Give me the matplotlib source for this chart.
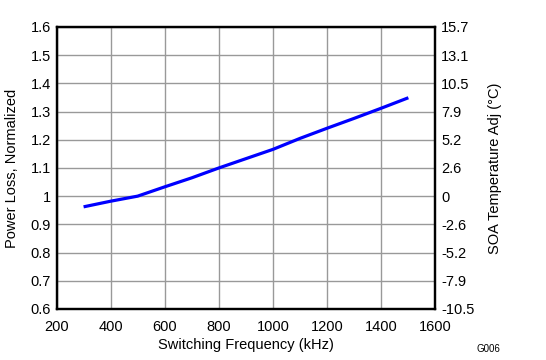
import numpy as np
import matplotlib.pyplot as plt

plt.rcParams['font.family'] = ['Liberation Sans', 'DejaVu Sans']

# data
freq = [300, 400, 500, 600, 700, 800, 900, 1000, 1100, 1200, 1300, 1400, 1500]
loss = [0.962, 0.982, 1.0, 1.033, 1.065, 1.10, 1.133, 1.166, 1.205, 1.241, 1.276, 1.312, 1.349]

x_ticks = [200, 400, 600, 800, 1000, 1200, 1400, 1600]
y_ticks = [0.6, 0.7, 0.8, 0.9, 1.0, 1.1, 1.2, 1.3, 1.4, 1.5, 1.6]
y_labels = ['0.6', '0.7', '0.8', '0.9', '1', '1.1', '1.2', '1.3', '1.4', '1.5', '1.6']
right_labels = ['-10.5', '-7.9', '-5.2', '-2.6', '0', '2.6', '5.2', '7.9', '10.5', '13.1', '15.7']

fig = plt.figure(figsize=(5.46, 3.6), dpi=100)
ax = fig.add_axes([0.1035, 0.142, 0.694, 0.783])

ax.plot(freq, loss, color='#0000ff', linewidth=2.3, solid_capstyle='butt')

ax.set_xlim(200, 1600)
ax.set_ylim(0.6, 1.6)
ax.set_xticks(x_ticks)
ax.set_yticks(y_ticks)
ax.set_yticklabels(y_labels)
ax.grid(True, color='#999999', linewidth=1.0)
ax.set_axisbelow(True)
ax.tick_params(length=0, labelsize=10.5, pad=4)
ax.tick_params(axis='x', pad=8)
for s in ax.spines.values():
    s.set_linewidth(1.6)

ax.set_xlabel('Switching Frequency (kHz)', fontsize=10.5, labelpad=3)
ax.set_ylabel('Power Loss, Normalized', fontsize=10.5, labelpad=8)

# secondary axis on the right
ax2 = ax.twinx()
ax2.set_ylim(0.6, 1.6)
ax2.set_yticks(y_ticks)
ax2.set_yticklabels(right_labels)
ax2.tick_params(length=0, labelsize=10.5, pad=4)
ax2.set_ylabel('SOA Temperature Adj (°C)', fontsize=10.5, labelpad=10)
for s in ax2.spines.values():
    s.set_linewidth(1.6)

fig.text(0.873, 0.022, 'G006', fontsize=7)

fig.savefig('out.png', dpi=100)
